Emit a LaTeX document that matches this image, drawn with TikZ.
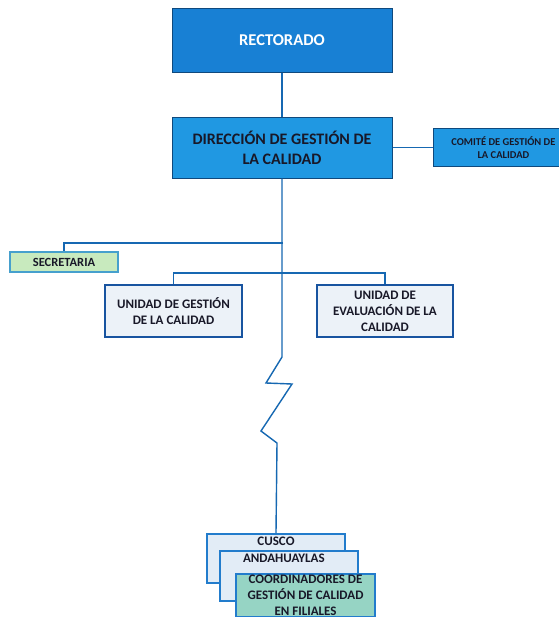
\documentclass[tikz,border=0pt]{standalone}
\usepackage{fontspec}
\setmainfont{Carlito}
\definecolor{rectblue}{RGB}{24,128,212}
\definecolor{dirblue}{RGB}{32,152,226}
\definecolor{linkblue}{RGB}{22,104,178}
\definecolor{boxedge}{RGB}{24,84,160}
\definecolor{boxfill}{RGB}{236,242,248}
\definecolor{secfill}{RGB}{200,234,190}
\definecolor{secedge}{RGB}{70,160,205}
\definecolor{filfill}{RGB}{226,236,246}
\definecolor{filedge}{RGB}{34,124,204}
\definecolor{coordfill}{RGB}{150,212,196}
\definecolor{inkdark}{RGB}{24,24,40}

\begin{document}
\begin{tikzpicture}[x=1pt,y=-1pt,
  link/.style={draw=linkblue, line width=1.4pt},
  headbox/.style={draw=linkblue!70!black, line width=1pt, fill=rectblue, text=white,
    minimum width=220pt, font=\bfseries\fontsize{16.5}{19}\selectfont},
  dirbox/.style={draw=linkblue!70!black, line width=1pt, fill=dirblue, text=inkdark,
    minimum width=220pt, minimum height=61pt, align=center, font=\bfseries\fontsize{16}{20}\selectfont},
  sidebox/.style={draw=linkblue!70!black, line width=0.8pt, fill=dirblue, text=inkdark,
    minimum width=140pt, minimum height=38pt, align=center, font=\bfseries\fontsize{10.5}{13}\selectfont},
  secbox/.style={draw=secedge, line width=1.4pt, fill=secfill, text=inkdark,
    minimum width=108pt, minimum height=20pt, inner sep=1pt, font=\bfseries\fontsize{12.5}{14}\selectfont},
  unitbox/.style={draw=boxedge, line width=1.8pt, fill=boxfill, text=inkdark,
    minimum width=137pt, minimum height=52pt, align=center, font=\bfseries\fontsize{13}{16}\selectfont},
  filbox/.style={draw=filedge, line width=1.8pt, fill=filfill, text=inkdark,
    minimum width=138pt, inner sep=2pt, font=\bfseries\fontsize{13}{16}\selectfont}
]
\clip (0,0) rectangle (559,622);
\fill[white] (0,0) rectangle (559,622);

% cabecera
\node[headbox, minimum height=64pt] (rect) at (282,40) {RECTORADO};
\node[dirbox] (dir) at (282,147.5) {DIRECCIÓN DE GESTIÓN DE\\LA CALIDAD};
\node[sidebox, anchor=west] (comite) at (433,147.5) {COMITÉ DE GESTIÓN DE\\LA CALIDAD};

% unidades
\node[secbox] (secre) at (64,262) {SECRETARIA};
\node[unitbox] (ugc) at (173.5,311) {UNIDAD DE GESTIÓN\\DE LA CALIDAD};
\node[unitbox, minimum width=136pt] (uec) at (385,311) {UNIDAD DE\\EVALUACIÓN DE LA\\CALIDAD};

% filiales
\node[filbox, text height=10pt, text depth=35pt, anchor=north] (cusco) at (276,533) {CUSCO};
\node[filbox, text height=10pt, text depth=36pt, text width=134pt, align=left,
  anchor=north] (andah) at (289,550) {\hspace*{21pt}ANDAHUAYLAS};
\node[filbox, fill=coordfill, minimum width=139pt, align=center, anchor=north,
  inner sep=1pt] (coord) at (305.5,573) {COORDINADORES DE\\GESTIÓN DE CALIDAD\\EN FILIALES};

% conectores
\coordinate (tsec) at (283,243);
\coordinate (tun) at (283,273);
\coordinate (z1) at (282,357);
\coordinate (z2) at (266,383);
\coordinate (z3) at (292,384);
\coordinate (z4) at (261,431);
\coordinate (z5) at (277,443);

\draw[link] (rect.south) -- (dir.north);
\draw[link] (dir.east) -- (comite.west);
\draw[link] (dir.south) -- (z1) -- (z2) -- (z3) -- (z4) -- (z5) -- (cusco.north);
\draw[link] (tsec) -| (secre.north);
\draw[link] (ugc.north) |- (tun) -| (uec.north);
\end{tikzpicture}
\end{document}
